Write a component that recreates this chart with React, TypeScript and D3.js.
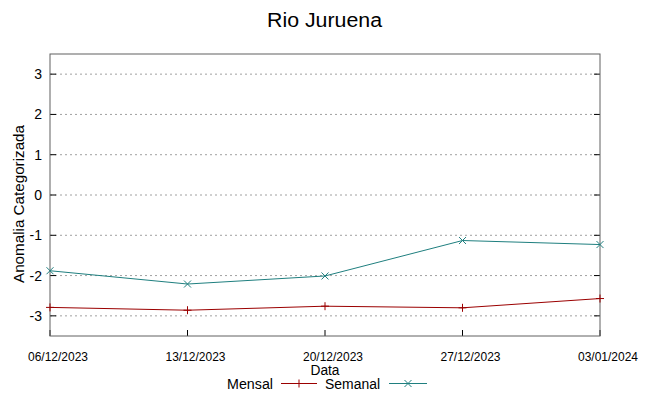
import React from "react";
import * as d3 from "d3";

const dates = ["06/12/2023", "13/12/2023", "20/12/2023", "27/12/2023", "03/01/2024"];
const mensal = [-2.79, -2.86, -2.76, -2.8, -2.57];
const semanal = [-1.88, -2.21, -2.01, -1.13, -1.23];
const yTicks = [-3, -2, -1, 0, 1, 2, 3];

const W = 649, H = 396;
const L = 50, R = 600, T = 54, B = 336;
const RED = "#9b0000";
const TEAL = "#1f7f7f";
const FONT = "'Liberation Sans', Arial, sans-serif";

export default function App() {
  const x = d3.scalePoint<string>().domain(dates).range([L, R]);
  const y = d3.scaleLinear().domain([-3.5, 3.5]).range([B, T]);
  const line = d3.line<number>().x((_, i) => x(dates[i])!).y((v) => y(v));

  const plus = (cx: number, cy: number, c: string, k: string) => (
    <path key={k} d={`M${cx - 4},${cy}H${cx + 4}M${cx},${cy - 4}V${cy + 4}`} stroke={c} strokeWidth={1} fill="none" />
  );
  const cross = (cx: number, cy: number, c: string, k: string) => (
    <path key={k} d={`M${cx - 3.5},${cy - 3.5}L${cx + 3.5},${cy + 3.5}M${cx - 3.5},${cy + 3.5}L${cx + 3.5},${cy - 3.5}`} stroke={c} strokeWidth={1} fill="none" />
  );

  return (
    <svg width={W} height={H} style={{ position: "absolute", left: 0, top: 0, background: "#fff" }}>
      <rect width={W} height={H} fill="#fff" />
      <text x={324.5} y={27} textAnchor="middle" fontFamily={FONT} fontSize={20} textLength={115} lengthAdjust="spacingAndGlyphs" fill="#000">Rio Juruena</text>
      {yTicks.map((t) => (
        <g key={t}>
          <line x1={L} x2={R} y1={y(t)} y2={y(t)} stroke="#a0a0a0" strokeWidth={1} strokeDasharray="2,3" />
          <line x1={L} x2={L + 6} y1={y(t)} y2={y(t)} stroke="#000" />
          <line x1={R - 6} x2={R} y1={y(t)} y2={y(t)} stroke="#000" />
          <text x={L - 8} y={y(t) + 5} textAnchor="end" fontFamily={FONT} fontSize={14} fill="#000">{t}</text>
        </g>
      ))}
      {dates.map((d) => (
        <g key={d}>
          <line x1={x(d)} x2={x(d)} y1={B} y2={B - 6} stroke="#000" />
          <text x={x(d)! + 8} y={361} textAnchor="middle" fontFamily={FONT} fontSize={12} textLength={60} lengthAdjust="spacingAndGlyphs" fill="#000">{d}</text>
        </g>
      ))}
      <rect x={L} y={T} width={R - L} height={B - T} fill="none" stroke="#606060" strokeWidth={1} />
      <path d={line(mensal)!} fill="none" stroke={RED} strokeWidth={1} />
      <path d={line(semanal)!} fill="none" stroke={TEAL} strokeWidth={1} />
      {mensal.map((v, i) => plus(x(dates[i])!, y(v), RED, "m" + i))}
      {semanal.map((v, i) => cross(x(dates[i])!, y(v), TEAL, "s" + i))}
      <text x={24} y={204} transform={`rotate(-90,24,204)`} textAnchor="middle" fontFamily={FONT} fontSize={15} textLength={158} lengthAdjust="spacingAndGlyphs" fill="#000">Anomalia Categorizada</text>
      <text x={325} y={375} textAnchor="middle" fontFamily={FONT} fontSize={14} textLength={29} lengthAdjust="spacingAndGlyphs" fill="#000">Data</text>
      <text x={273} y={389} textAnchor="end" fontFamily={FONT} fontSize={14} textLength={46} lengthAdjust="spacingAndGlyphs" fill="#000">Mensal</text>
      <line x1={281} x2={317} y1={383.5} y2={383.5} stroke={RED} />
      {plus(299, 383.5, RED, "lm")}
      <text x={380} y={389} textAnchor="end" fontFamily={FONT} fontSize={14} textLength={55} lengthAdjust="spacingAndGlyphs" fill="#000">Semanal</text>
      <line x1={389} x2={427} y1={383.5} y2={383.5} stroke={TEAL} />
      {cross(408, 383.5, TEAL, "ls")}
    </svg>
  );
}
